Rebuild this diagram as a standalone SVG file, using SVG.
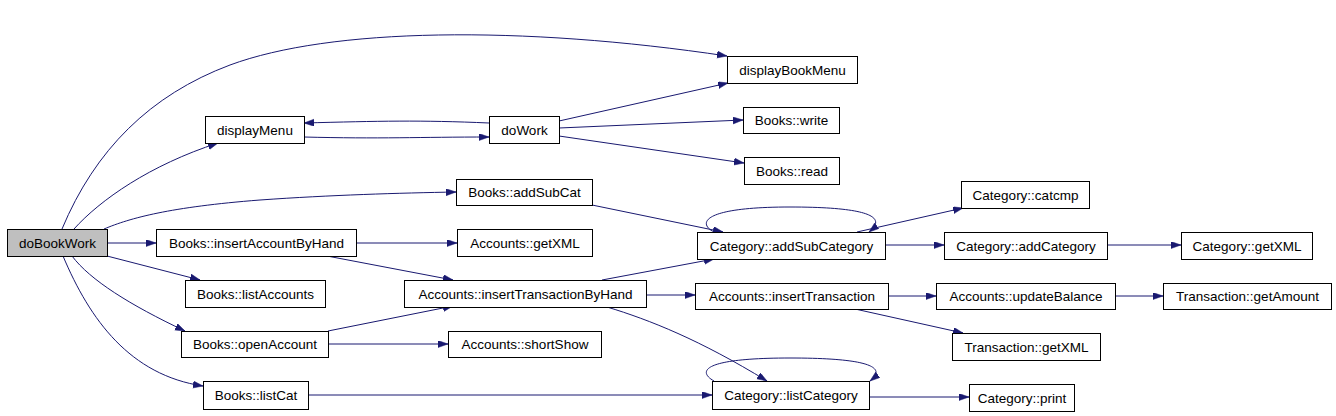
<svg xmlns="http://www.w3.org/2000/svg" width="1336" height="416" viewBox="0 0 1336 416">
<style>
.n rect{fill:#fff;stroke:#000;stroke-width:1}
.n text{font-family:"Liberation Sans",Arial,sans-serif;font-size:13.5px;fill:#000;text-anchor:middle}
#edges path{fill:none;stroke:#191970;stroke-width:1;marker-end:url(#ah)}
</style>
<defs>
<marker id="ah" markerUnits="userSpaceOnUse" markerWidth="11" markerHeight="8" refX="10" refY="3.5" orient="auto">
<path d="M0,0 L10,3.5 L0,7 z" fill="#191970" stroke="#191970" stroke-width="0.5"/>
</marker>
</defs>
<rect width="1336" height="416" fill="#fff"/>
<g id="edges">
<path d="M62,229 C95,150 150,95 230,65 C330,28 520,25 727,56"/>
<path d="M74,229 C100,200 150,165 218,143"/>
<path d="M304,137 C380,139 420,137 489,137"/>
<path d="M489,123 C420,120 380,121 304,123"/>
<path d="M559,121 L728,83"/>
<path d="M559,128 L743,120"/>
<path d="M559,136 L744,163"/>
<path d="M104,229 C130,218 170,207 260,200 C330,195 400,193 456,192"/>
<path d="M107,243 L156,243"/>
<path d="M107,256 L200,280"/>
<path d="M72,256 C90,280 130,305 185,331"/>
<path d="M63,256 C90,320 130,375 203,386"/>
<path d="M356,243 L457,243"/>
<path d="M327,256 L453,280"/>
<path d="M328,331 L453,306"/>
<path d="M328,344 L448,344"/>
<path d="M308,395 L712,395"/>
<path d="M592,205 L723,232"/>
<path d="M602,280 L714,259"/>
<path d="M646,295 L695,295"/>
<path d="M607,307 C650,320 700,340 767,381"/>
<path d="M714,232 C698,224 700,207 790,207 C880,207 884,220 869,232"/>
<path d="M857,232 L963,208"/>
<path d="M885,245 L944,245"/>
<path d="M1107,245 L1181,245"/>
<path d="M888,296 L936,296"/>
<path d="M1115,296 L1163,296"/>
<path d="M855,309 L963,333"/>
<path d="M714,381 C698,372 700,358 790,358 C880,358 884,370 870,381"/>
<path d="M869,397 L969,397"/>
</g>
<g id="doBookWork" class="n"><rect x="7.5" y="229.5" width="100" height="27" style="fill:#bfbfbf"/><text x="57.5" y="247.5">doBookWork</text></g>
<g id="displayMenu" class="n"><rect x="205.5" y="116.5" width="99" height="27"/><text x="255" y="134.5">displayMenu</text></g>
<g id="doWork" class="n"><rect x="489.5" y="116.5" width="70" height="27"/><text x="524.5" y="134.5">doWork</text></g>
<g id="displayBookMenu" class="n"><rect x="727.5" y="56.5" width="130" height="27"/><text x="792.5" y="74.5">displayBookMenu</text></g>
<g id="Books_write" class="n"><rect x="743.5" y="107.5" width="96" height="26"/><text x="791.5" y="125">Books::write</text></g>
<g id="Books_read" class="n"><rect x="744.5" y="157.5" width="95" height="27"/><text x="792" y="175.5">Books::read</text></g>
<g id="Books_addSubCat" class="n"><rect x="456.5" y="179.5" width="136" height="26"/><text x="524.5" y="197">Books::addSubCat</text></g>
<g id="Books_insertAccountByHand" class="n"><rect x="156.5" y="229.5" width="200" height="27"/><text x="256.5" y="247.5">Books::insertAccountByHand</text></g>
<g id="Books_listAccounts" class="n"><rect x="185.5" y="280.5" width="140" height="27"/><text x="255.5" y="298.5">Books::listAccounts</text></g>
<g id="Books_openAccount" class="n"><rect x="181.5" y="331.5" width="147" height="26"/><text x="255" y="349">Books::openAccount</text></g>
<g id="Books_listCat" class="n"><rect x="203.5" y="381.5" width="105" height="28"/><text x="256" y="400">Books::listCat</text></g>
<g id="Accounts_getXML" class="n"><rect x="457.5" y="229.5" width="135" height="27"/><text x="525" y="247.5">Accounts::getXML</text></g>
<g id="Accounts_insertTransactionByHand" class="n"><rect x="404.5" y="280.5" width="242" height="27"/><text x="525.5" y="298.5">Accounts::insertTransactionByHand</text></g>
<g id="Accounts_shortShow" class="n"><rect x="448.5" y="331.5" width="153" height="26"/><text x="525" y="349">Accounts::shortShow</text></g>
<g id="Category_addSubCategory" class="n"><rect x="697.5" y="232.5" width="188" height="27"/><text x="791.5" y="250.5">Category::addSubCategory</text></g>
<g id="Accounts_insertTransaction" class="n"><rect x="695.5" y="283.5" width="193" height="26"/><text x="792" y="301">Accounts::insertTransaction</text></g>
<g id="Category_listCategory" class="n"><rect x="712.5" y="381.5" width="157" height="28"/><text x="791" y="400">Category::listCategory</text></g>
<g id="Category_catcmp" class="n"><rect x="961.5" y="181.5" width="128" height="27"/><text x="1025.5" y="199.5">Category::catcmp</text></g>
<g id="Category_addCategory" class="n"><rect x="944.5" y="232.5" width="163" height="27"/><text x="1026" y="250.5">Category::addCategory</text></g>
<g id="Category_getXML" class="n"><rect x="1181.5" y="232.5" width="131" height="27"/><text x="1247" y="250.5">Category::getXML</text></g>
<g id="Accounts_updateBalance" class="n"><rect x="936.5" y="283.5" width="179" height="26"/><text x="1026" y="301">Accounts::updateBalance</text></g>
<g id="Transaction_getAmount" class="n"><rect x="1163.5" y="283.5" width="168" height="26"/><text x="1247.5" y="301">Transaction::getAmount</text></g>
<g id="Transaction_getXML" class="n"><rect x="952.5" y="333.5" width="148" height="27"/><text x="1026.5" y="351.5">Transaction::getXML</text></g>
<g id="Category_print" class="n"><rect x="969.5" y="384.5" width="105" height="27"/><text x="1022" y="402.5">Category::print</text></g>
</svg>
